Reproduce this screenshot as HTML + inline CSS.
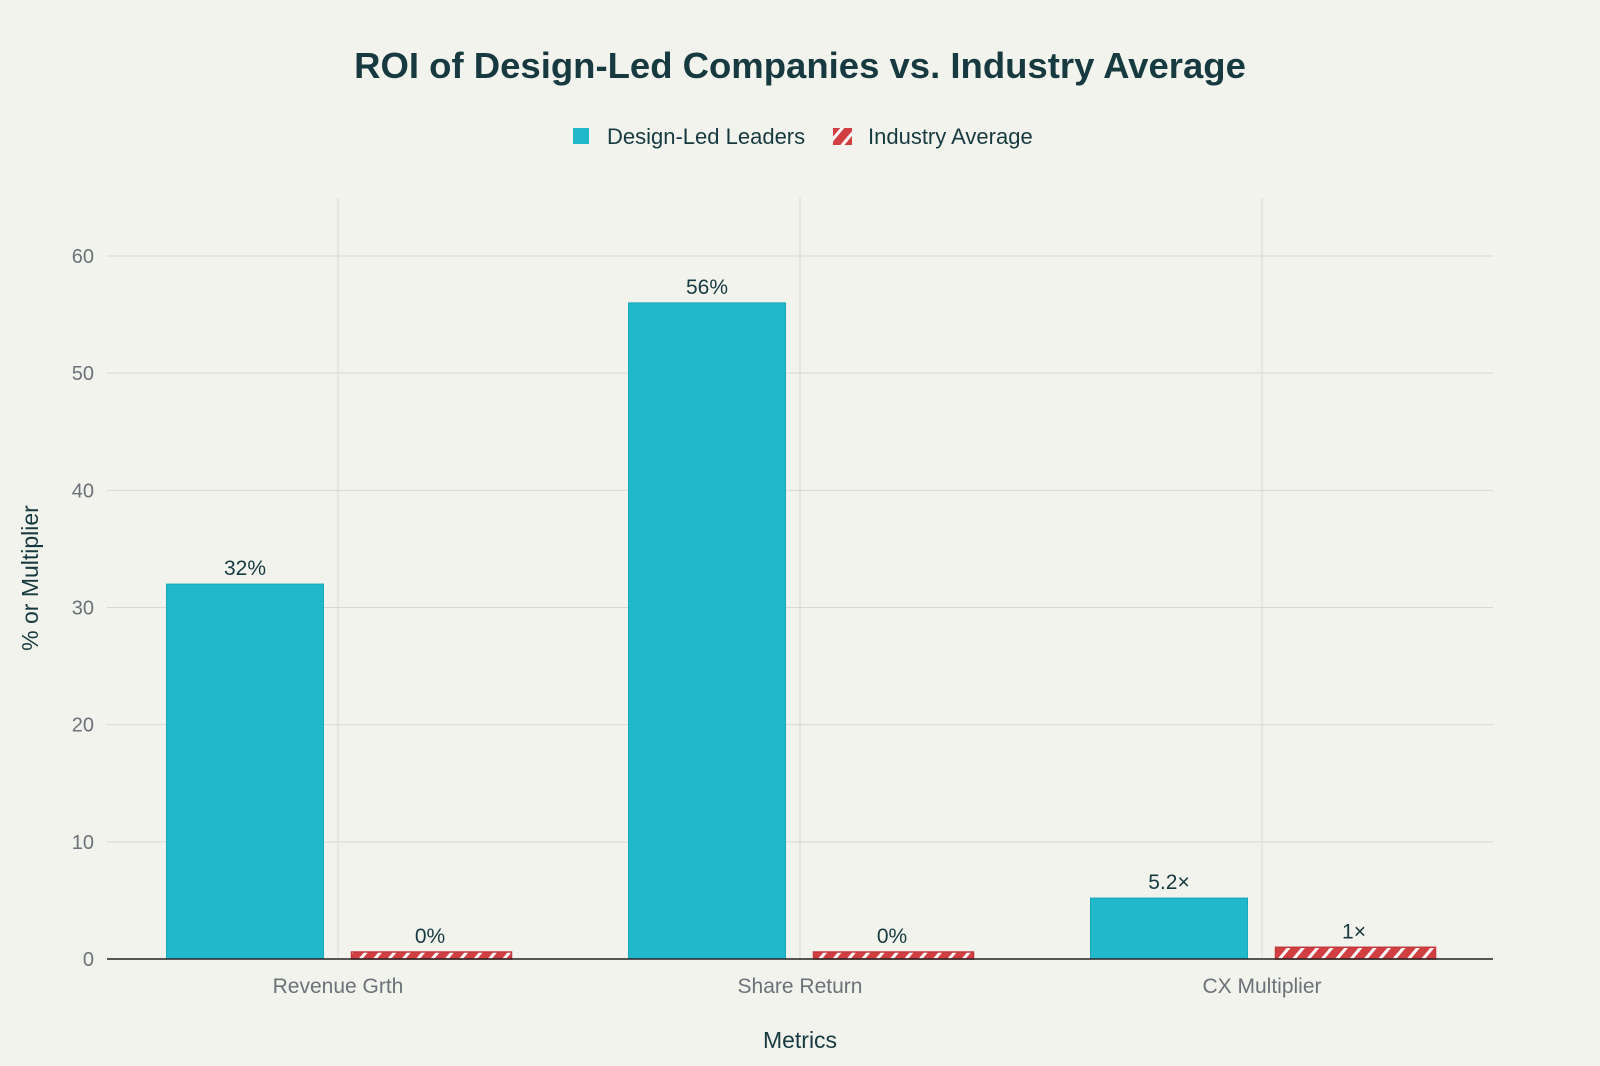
<!DOCTYPE html>
<html><head><meta charset="utf-8"><style>
body{margin:0;background:#f3f3ee;font-family:"Liberation Sans",sans-serif;}
svg{display:block}
</style></head><body>
<svg width="1600" height="1066">
<defs><pattern id="hatch" width="11" height="11" patternUnits="userSpaceOnUse" patternTransform="rotate(40)">
<rect width="11" height="11" fill="#d13f42"/><rect x="0" width="3" height="11" fill="#fff"/></pattern></defs>
<rect width="1600" height="1066" fill="#f3f3ee"/>
<text x="800" y="78" text-anchor="middle" font-size="36.5" font-weight="bold" fill="#163a3f">ROI of Design-Led Companies vs. Industry Average</text>
<g>
<rect x="573" y="128" width="16" height="16" fill="#21b8cc"/>
<text x="607" y="144" font-size="22" fill="#163a3f">Design-Led Leaders</text>
<rect x="833" y="128" width="19" height="17" fill="url(#hatch)"/>
<text x="868" y="144" font-size="22" fill="#163a3f">Industry Average</text>
</g>
<g id="grid"></g><g id="bars"></g>
<text transform="translate(38,578) rotate(-90)" text-anchor="middle" font-size="23" fill="#163a3f">% or Multiplier</text>
<text x="800" y="1048" text-anchor="middle" font-size="23" fill="#163a3f">Metrics</text>
</svg>
<script>
const categories=["Revenue Grth","Share Return","CX Multiplier"];
const leaders=[32,56,5.2];
const industry=[0,0,1];
const leaderLabels=["32%","56%","5.2×"];
const industryLabels=["0%","0%","1×"];
const yTicks=[0,10,20,30,40,50,60];
const NS="http://www.w3.org/2000/svg";
const L=107,R=1493,T=198,B=959;
const y=v=>B-(v/60)*(B-256);
const band=(R-L)/categories.length;
const xc=i=>L+band*(i+0.5);
function mk(tag,attrs,parent){const e=document.createElementNS(NS,tag);for(const k in attrs)e.setAttribute(k,attrs[k]);parent.appendChild(e);return e;}
const grid=document.getElementById('grid'),bars=document.getElementById('bars');
yTicks.forEach(t=>{
 if(t>0){const l=mk('line',{x1:L,x2:R,y1:y(t),y2:y(t),stroke:'#d8d8d4','stroke-width':1},grid);
 
 }
 const tx=mk('text',{x:L-13,y:y(t)+7,'text-anchor':'end','font-size':20,fill:'#6b7278'},grid);tx.textContent=t;
 
 
});
categories.forEach((c,i)=>{
 const l=mk('line',{x1:xc(i),x2:xc(i),y1:T,y2:B,stroke:'#d8d8d4'},grid);
 
 
 const tx=mk('text',{x:xc(i),y:993,'text-anchor':'middle','font-size':21,fill:'#6b7278'},grid);tx.textContent=c;
 
 
 const w=157;
 const bx=xc(i)-93-w/2, by=y(leaders[i]);
 const b=mk('rect',{x:bx,y:by,width:w,height:B-by,fill:'#21b8cc',stroke:'#1aa6b8','stroke-width':1},bars);
 
 
 const bl=mk('text',{x:xc(i)-93,y:by-9,'text-anchor':'middle','font-size':21,fill:'#163a3f'},bars);bl.textContent=leaderLabels[i];
 
 
 const rx=xc(i)+92-w/2;let ry=y(industry[i]);if(B-ry<7)ry=B-7;
 const r=mk('rect',{x:rx,y:ry,width:w+3,height:B-ry,fill:'url(#hatch)',stroke:'#c0393c','stroke-width':1.5},bars);
 
 
 const rl=mk('text',{x:xc(i)+92,y:ry-9,'text-anchor':'middle','font-size':21,fill:'#163a3f'},bars);rl.textContent=industryLabels[i];
 
 
});
const ax=mk('line',{x1:L,x2:R,y1:B,y2:B,stroke:'#222','stroke-width':1.5},bars);


</script>
</body></html>
